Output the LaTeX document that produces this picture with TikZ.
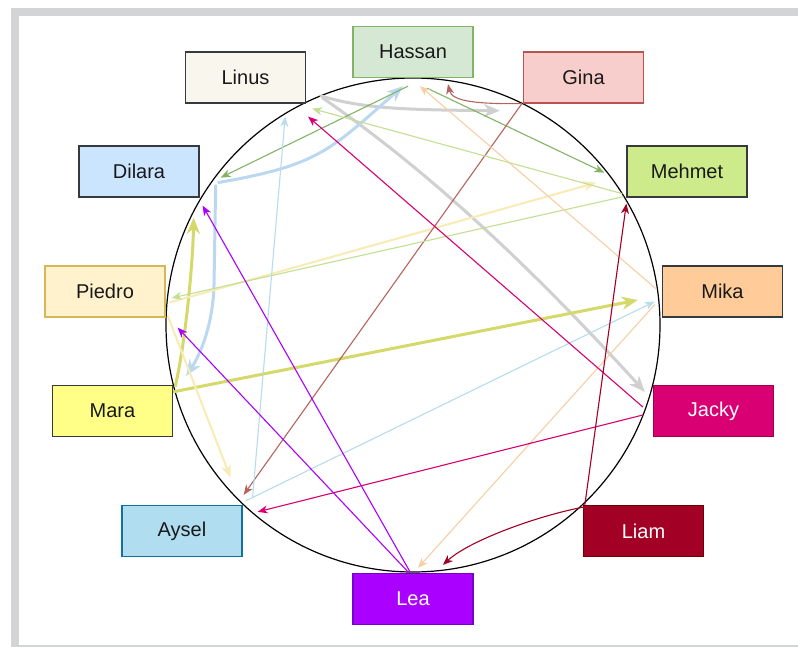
\documentclass[tikz,border=0pt]{standalone}
\usepackage{fontspec}
\setmainfont{Liberation Sans}
\usetikzlibrary{arrows.meta}

% box colours
\definecolor{framegray}{HTML}{D3D4D6}
\definecolor{darkline}{HTML}{36393D}
\definecolor{hassanfill}{HTML}{D5E8D4}\definecolor{hassanline}{HTML}{82B366}
\definecolor{linusfill}{HTML}{F9F7ED}
\definecolor{ginafill}{HTML}{F8CECC}\definecolor{ginaline}{HTML}{B85450}
\definecolor{dilarafill}{HTML}{CCE5FF}
\definecolor{mehmetfill}{HTML}{CDEB8B}
\definecolor{piedrofill}{HTML}{FFF2CC}\definecolor{piedroline}{HTML}{D6B656}
\definecolor{mikafill}{HTML}{FFCC99}
\definecolor{marafill}{HTML}{FFFF88}
\definecolor{jackyfill}{HTML}{D80073}\definecolor{jackyline}{HTML}{A50040}
\definecolor{ayselfill}{HTML}{B1DDF0}\definecolor{ayselline}{HTML}{10739E}
\definecolor{liamfill}{HTML}{A20025}\definecolor{liamline}{HTML}{6F0000}
\definecolor{leafill}{HTML}{AA00FF}\definecolor{lealine}{HTML}{7700CC}
% connector colours
\definecolor{hassanedge}{HTML}{82B366}
\definecolor{ginaedge}{HTML}{B5645D}
\definecolor{linusedge}{HTML}{D0D0D0}
\definecolor{dilaraedge}{HTML}{BCD8F0}
\definecolor{mehmetedge}{HTML}{C2DF92}
\definecolor{piedroedge}{HTML}{F8EBB5}
\definecolor{mikaedge}{HTML}{F8CFA5}
\definecolor{maraedge}{HTML}{D4D96A}
\definecolor{jackyedge}{HTML}{D80073}
\definecolor{ayseledge}{HTML}{B7DCED}
\definecolor{liamedge}{HTML}{A20025}
\definecolor{leaedge}{HTML}{AA00FF}

\begin{document}
\begin{tikzpicture}[x=1pt,y=-1pt,
  person/.style={draw=darkline, line width=1.3pt, minimum width=120pt,
    minimum height=51pt, inner sep=0pt, text=black!90,
    font=\fontsize{20}{23}\selectfont},
  thin/.style={line width=1.1pt, -{Stealth[length=10pt,width=8pt,inset=3pt]}},
  mid/.style={line width=2pt, -{Stealth[length=13pt,width=10pt,inset=4pt]}},
  thick/.style={line width=3pt, -{Stealth[length=16pt,width=13pt,inset=5pt]}}]
\useasboundingbox (0,0) rectangle (798,647);

% window frame
\fill[framegray] (11,8) rectangle (798,647);
\fill[white] (19,16) rectangle (798,645);

% ring
\node[draw, circle, minimum size=494pt, line width=1.2pt, inner sep=0pt] (ring) at (413,325) {};

% people
\node[person, fill=hassanfill, draw=hassanline] (hassan) at (413,52) {Hassan};
\node[person, fill=linusfill] (linus) at (245.5,77.5) {Linus};
\node[person, fill=ginafill, draw=ginaline] (gina) at (583.5,77.5) {Gina};
\node[person, fill=dilarafill] (dilara) at (139,171.5) {Dilara};
\node[person, fill=mehmetfill] (mehmet) at (687,171.5) {Mehmet};
\node[person, fill=piedrofill, draw=piedroline] (piedro) at (105,291.5) {Piedro};
\node[person, fill=mikafill] (mika) at (722.5,291.5) {Mika};
\node[person, fill=marafill] (mara) at (112.5,411) {Mara};
\node[person, fill=jackyfill, draw=jackyline, text=white] (jacky) at (713.5,411) {Jacky};
\node[person, fill=ayselfill, draw=ayselline] (aysel) at (182,531) {Aysel};
\node[person, fill=liamfill, draw=liamline, text=white] (liam) at (643.5,531) {Liam};
\node[person, fill=leafill, draw=lealine, text=white] (lea) at (413,599) {Lea};

\coordinate (ginain) at ([shift={(-23,7)}]gina.south west);

% wide connectors
\draw[thick, linusedge] ([shift={(14,-8)}]linus.south east)
  .. controls (360,108) and (400,110) .. (ginain);
\draw[thick, linusedge] ([shift={(16,-6)}]linus.south east)
  .. controls (420,165) and (520,255) .. ([shift={(-8,7)}]jacky.north west);
\draw[thick, dilaraedge] ([shift={(18,-15)}]dilara.south east)
  .. controls (320,165) and (330,150) .. ([shift={(-10,8)}]hassan.south);
\draw[thick, dilaraedge] ([shift={(16,-13)}]dilara.south east) -- (214,285)
  .. controls (213,325) and (200,355) .. ([shift={(13,-9)}]mara.north east);
\draw[thick, maraedge] ([shift={(2,2)}]mara.north east)
  .. controls (186,340) and (193,260) .. ([shift={(-6,20)}]dilara.south east);
\draw[thick, maraedge] ([shift={(0,7)}]mara.north east)
  -- ([shift={(-24,8.5)}]mika.west);
\draw[mid, piedroedge] ([shift={(4,11)}]piedro.east)
  -- ([shift={(-30,-15)}]mehmet.south west);
\draw[mid, piedroedge] ([shift={(2,-2)}]piedro.south east)
  -- ([shift={(-12,-27)}]aysel.north east);

% thin connectors
\draw[thin, hassanedge] ([shift={(14,10)}]hassan.south)
  -- ([shift={(-22,-25)}]mehmet.south west);
\draw[thin, hassanedge] ([shift={(-5,8)}]hassan.south)
  -- ([shift={(21,-20)}]dilara.south east);
\draw[thin, ginaedge] ([shift={(-1,0)}]gina.south west)
  .. controls (480,104) and (452,102) .. ([shift={(35,6)}]hassan.south);
\draw[thin, ginaedge] ([shift={(-1,0)}]gina.south west)
  -- ([shift={(1,-10)}]aysel.north east);
\draw[thin, mehmetedge] ([shift={(-4,-4)}]mehmet.south west)
  -- ([shift={(6,5)}]linus.south east);
\draw[thin, mehmetedge] ([shift={(-3,-1)}]mehmet.south west)
  -- ([shift={(6,6.5)}]piedro.east);
\draw[thin, mikaedge] ([shift={(-5,-2)}]mika.west)
  -- ([shift={(7,8)}]hassan.south);
\draw[thin, mikaedge] ([shift={(-7,13)}]mika.west)
  -- ([shift={(5,-5)}]lea.north);
\draw[thin, ayseledge] ([shift={(10,-8)}]aysel.north east)
  -- ([shift={(-21,13)}]linus.south east);
\draw[thin, ayseledge] ([shift={(3,-4)}]aysel.north east)
  -- ([shift={(-7,10)}]mika.west);
\draw[thin, jackyedge] ([shift={(-10,-4)}]jacky.west)
  -- ([shift={(2,13)}]linus.south east);
\draw[thin, jackyedge] ([shift={(-10,4)}]jacky.west)
  -- ([shift={(15,7)}]aysel.north east);
\draw[thin, liamedge] ([shift={(2,0)}]liam.north west)
  -- ([shift={(0,6)}]mehmet.south west);
\draw[thin, liamedge] ([shift={(2,2)}]liam.north west)
  .. controls (540,515) and (470,540) .. ([shift={(30,-8)}]lea.north);
\draw[thin, leaedge] ([shift={(-3,-1)}]lea.north)
  -- ([shift={(3,8)}]dilara.south east);
\draw[thin, leaedge] ([shift={(-5,-1)}]lea.north)
  -- ([shift={(12,10)}]piedro.south east);
\end{tikzpicture}
\end{document}
